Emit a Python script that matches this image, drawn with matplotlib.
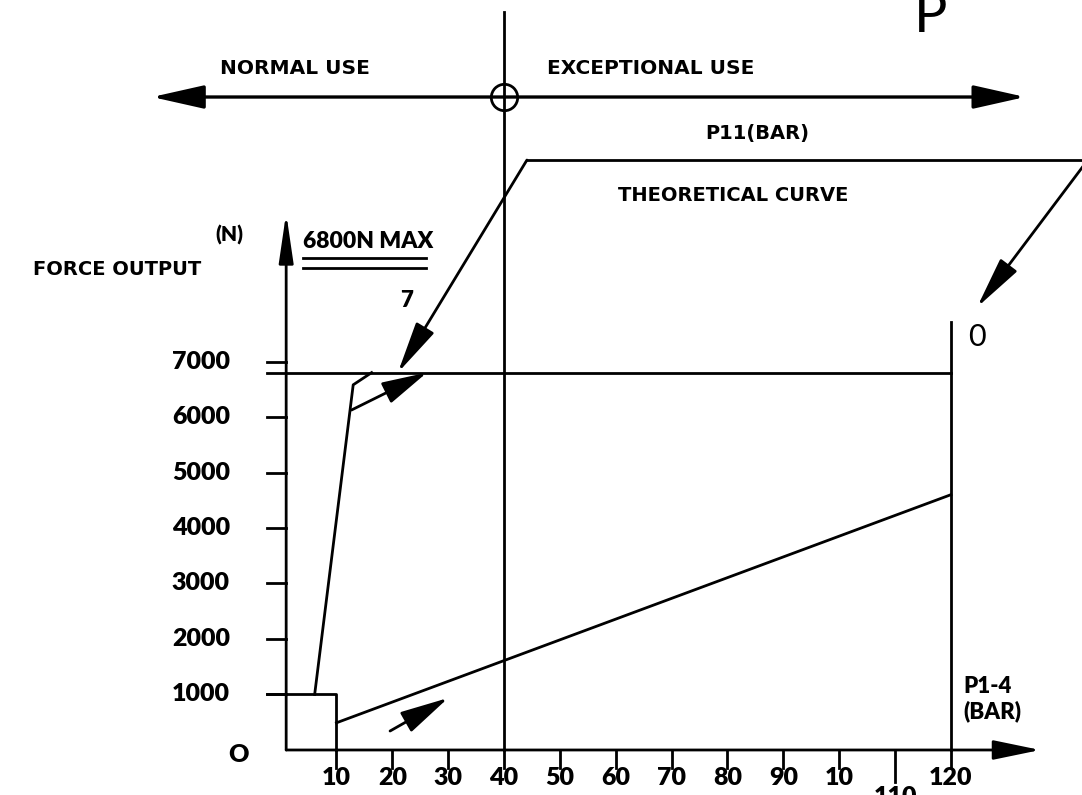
import matplotlib
matplotlib.use("Agg")
import matplotlib.pyplot as plt

# pressure axis (bar) and force axis (N)
pressure_ticks = [10, 20, 30, 40, 50, 60, 70, 80, 90, 100, 110, 120]
pressure_labels = ["10", "20", "30", "40", "50", "60", "70", "80", "90", "10", "110", "120"]
force_ticks = [1000, 2000, 3000, 4000, 5000, 6000, 7000]
force_labels = ["1000", "2000", "3000", "4000", "5000", "6000", "7000"]

max_force = 6800
limit_pressure = 40      # normal / exceptional use boundary
max_pressure = 120

# start box (pressure, force)
box_p = [-2.4, 10, 10]
box_f = [1000, 1000, 0]

# steep curve
steep_p = [6.1, 13.0, 16.3]
steep_f = [1000, 6580, 6800]

# low curve P1-4
low_p = [10, 120]
low_f = [490, 4600]

# theoretical curve P11 (top edge of parallelogram)
theo_p = [44.1, 144.5]
theo_f = [10630, 10630]
theo_left_tip = (21.0, 6800)
theo_right_tip = (124.7, 7980)

# arrows along curves
branch_from = (12.7, 6126)
branch_to = (26.2, 6800)
small_from = (19.6, 342)
small_to = (30.0, 937)

use_line_f = 11766
use_line_p = [-23.0, 133.3]

CAD = ["Liberation Sans Narrow", "DejaVu Sans"]
NUM = ["Lato", "DejaVu Sans"]

fig = plt.figure(figsize=(10.82, 7.95), dpi=100)
ax = fig.add_axes([0, 0, 1, 1])
ax.set_xlim(-50.23, 143.47)
ax.set_ylim(-811, 13514)
ax.axis("off")

k = "black"
lw = 2.0


def arrow(tail, tip, hl=1.4, hw=0.3, ms=20, width=lw, style="-|>"):
    ax.annotate("", xy=tip, xytext=tail,
                arrowprops=dict(arrowstyle=f"{style},head_length={hl},head_width={hw}",
                                fc=k, ec=k, lw=width, shrinkA=0, shrinkB=0,
                                mutation_scale=ms))


# axes with arrows
arrow((1, 0), (1, 9675), hl=1.5, hw=0.22)
arrow((1, 0), (136.0, 0), hl=1.45, hw=0.3)

# ticks
for p in pressure_ticks:
    ax.plot([p, p], [0, -570 if p == 110 else -324], color=k, lw=lw)
for f in force_ticks:
    ax.plot([-2.4, 1], [f, f], color=k, lw=lw)

for p, lab in zip(pressure_ticks, pressure_labels):
    yy = -847 if p == 110 else -505
    ax.text(p, yy, lab, ha="center", va="center", fontsize=18,
            fontweight="heavy", family=NUM)
for f, lab in zip(force_ticks, force_labels):
    ax.text(-9.1, f, lab, ha="right", va="center", fontsize=18,
            fontweight="heavy", family=NUM)
ax.text(-7.6, -90, "O", ha="center", va="center", fontsize=18,
        fontweight="heavy", family=NUM)

# max force line and limits
ax.plot([-2.4, max_pressure], [max_force, max_force], color=k, lw=lw)
ax.plot([limit_pressure, limit_pressure], [0, 13297], color=k, lw=lw)
ax.plot([max_pressure, max_pressure], [0, 7712], color=k, lw=lw)

# curves
ax.plot(box_p, box_f, color=k, lw=lw)
ax.plot(steep_p, steep_f, color=k, lw=lw)
ax.plot(low_p, low_f, color=k, lw=lw)
ax.plot(theo_p, theo_f, color=k, lw=lw)
arrow((theo_p[0], theo_f[0]), theo_left_tip, hl=1.6, hw=0.32)
arrow((theo_p[1], theo_f[1]), theo_right_tip, hl=1.6, hw=0.32)
arrow(branch_from, branch_to, hl=1.4, hw=0.35)
arrow(small_from, small_to, hl=1.5, hw=0.35)

# normal / exceptional use arrow
arrow((use_line_p[0], use_line_f), (use_line_p[1], use_line_f),
      hl=1.6, hw=0.36, width=2.4, style="<|-|>")
ax.plot([limit_pressure], [use_line_f], "o", ms=19, mfc="none", mec=k, mew=2)

# labels
ax.text(2.6, 12288, "NORMAL USE", ha="center", va="center", fontsize=14.5,
        fontweight="bold", family=CAD)
ax.text(66.3, 12288, "EXCEPTIONAL USE", ha="center", va="center", fontsize=14.5,
        fontweight="bold", family=CAD)
ax.text(85.3, 11117, "P11(BAR)", ha="center", va="center", fontsize=14,
        fontweight="bold", family=CAD)
ax.text(81.0, 10000, "THEORETICAL CURVE", ha="center", va="center", fontsize=14,
        fontweight="bold", family=CAD)
ax.text(-29.3, 8649, "FORCE OUTPUT", ha="center", va="center", fontsize=14,
        fontweight="bold", family=CAD)
ax.text(-9.1, 9279, "(N)", ha="center", va="center", fontsize=15,
        fontweight="heavy", family=NUM)
ax.text(4.0, 9171, "6800N MAX", ha="left", va="center", fontsize=16.5,
        fontweight="heavy", family=NUM)
ax.plot([4.0, 26.0], [8865, 8865], color=k, lw=2)
ax.plot([4.0, 26.0], [8685, 8685], color=k, lw=2)
ax.text(22.6, 8108, "7", ha="center", va="center", fontsize=16,
        fontweight="heavy", family=NUM)
ax.text(124.7, 7441, "0", ha="center", va="center", fontsize=22,
        family=NUM)
ax.text(116.3, 12937, "P", ha="center", va="baseline", fontsize=40,
        family=NUM)
ax.text(122.2, 1153, "P1-4", ha="left", va="center", fontsize=16,
        fontweight="heavy", family=NUM)
ax.text(122.2, 703, "(BAR)", ha="left", va="center", fontsize=16,
        fontweight="heavy", family=NUM)

fig.savefig("out.png", dpi=100)
